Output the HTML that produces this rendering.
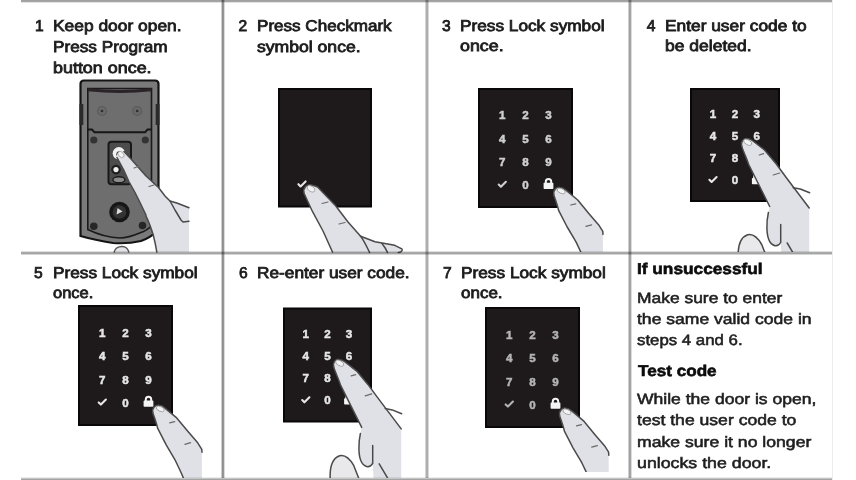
<!DOCTYPE html>
<html><head><meta charset="utf-8"><style>
html,body{margin:0;padding:0;background:#fff;}
body{width:856px;height:480px;position:relative;overflow:hidden;font-family:"Liberation Sans",sans-serif;}
.l{position:absolute;background:#8a8a8a;mix-blend-mode:multiply;}
span{position:absolute;white-space:nowrap;line-height:1;transform-origin:0 0;color:#232323;text-rendering:geometricPrecision;}
span.b{font-weight:400;color:#1c1c1c;-webkit-text-stroke:0.8px #1c1c1c;}
span.h{font-weight:700;color:#0c0c0c;-webkit-text-stroke:0.6px #0c0c0c;}
span.r{font-weight:400;color:#1e1e1e;-webkit-text-stroke:0.55px #1e1e1e;}
svg{position:absolute;left:0;top:0;}
</style></head><body>
<svg width="856" height="480" viewBox="0 0 856 480">
<defs><clipPath id="c3"><rect x="427" y="0" width="202" height="252"/></clipPath><clipPath id="c4"><rect x="631" y="0" width="201" height="252"/></clipPath><clipPath id="c5"><rect x="21" y="254" width="200" height="224"/></clipPath><clipPath id="c6"><rect x="223" y="254" width="202" height="224"/></clipPath><clipPath id="c7"><rect x="427" y="254" width="202" height="218"/></clipPath></defs>

<g>
<path d="M80.5,84 Q80.5,80.5 84,80.5 L155,80.5 Q158.5,80.5 158.5,84 L158.5,230 Q150,238 141,241 Q128,244 113,243 Q95,240 80.5,236 Z" fill="#7a7a7a" stroke="#141414" stroke-width="2.2"/>
<path d="M87.8,88.5 L151.5,88.5 L151.5,226 Q146,231 141,232.5 Q128,238 120,238 Q104,237.5 87.8,229.5 Z" fill="#6f6e6f" stroke="#1a1a1a" stroke-width="1.6"/>
<path d="M87.8,89.8 Q120,93 151.5,89.8" stroke="#2a2428" stroke-width="3" fill="none"/>
<path d="M87.8,129.5 L92,129.5 L94.5,132.3 L145,132.3 L147.5,129.5 L151.5,129.5" stroke="#161616" stroke-width="2" fill="none"/>
<rect x="79.5" y="104" width="3.8" height="21" fill="#2a2a2a"/>
<rect x="155.7" y="104" width="3.8" height="21" fill="#2a2a2a"/>
<circle cx="102" cy="111" r="4.4" fill="#6a696a" stroke="#5c5c5c" stroke-width="1.4"/>
<circle cx="137.2" cy="111" r="4.4" fill="#6a696a" stroke="#5c5c5c" stroke-width="1.4"/>
<circle cx="102" cy="111" r="1.3" fill="#2e2e2e"/>
<circle cx="137.2" cy="111" r="1.3" fill="#2e2e2e"/>
<circle cx="93.8" cy="140" r="3.6" fill="#333"/>
<circle cx="145.3" cy="140" r="3.6" fill="#333"/>
<rect x="108.5" y="141.8" width="22.5" height="42.5" rx="3" fill="#4c4c4c" stroke="#181818" stroke-width="2"/>
<circle cx="118.9" cy="153.3" r="6.2" fill="#f2f2f2"/>
<circle cx="119.4" cy="154.2" r="3" fill="#262626"/>
<circle cx="116" cy="169.6" r="4.8" fill="#1e1e1e"/>
<circle cx="116" cy="169.6" r="2.6" fill="#eeeeee"/>
<ellipse cx="118.9" cy="179.7" rx="6" ry="3" fill="#8c8c8c" stroke="#1c1c1c" stroke-width="1.4"/>
<circle cx="119.5" cy="212" r="10.3" fill="#161616"/>
<circle cx="119.5" cy="212" r="6.8" fill="#333"/>
<path d="M116.5,214.5 L122.5,211.5 L117.5,208 Z" fill="#dcdcdc"/>
<circle cx="93.8" cy="226.2" r="3.8" fill="#262626"/>
<circle cx="142.5" cy="225.5" r="3.8" fill="#262626"/>
<path d="M114,252.5 C115,248 119,246.5 122,246.5 C125,246.5 128,248.5 129,252.5" fill="#e4e4e8" stroke="#555" stroke-width="1.4"/>
</g>
<path d="M117,157.5 C116,152.5 120.5,150 124,151.5 L131,159 L146,176 L158.5,187.5 L165,196 L170,201 L177.5,203.2 L189,207.8 L189,252 L157,252 L153.75,235 L146,215 L140,202.5 L135,192.5 L128.75,181.25 L123.75,170 Z" fill="#e0e1e6" stroke="none"/>
<path d="M117,157.5 L123.75,170 L128.75,181.25 L135,192.5 L140,202.5 L146,215" fill="none" stroke="#4a4a4a" stroke-width="1.5" stroke-linecap="round" stroke-linejoin="round"/>
<path d="M124,151.5 L131,159 L146,176 L158.5,187.5 L165,196 L170,201 L177.5,203.2 L189,207.8" fill="none" stroke="#4a4a4a" stroke-width="1.5" stroke-linecap="round" stroke-linejoin="round"/>
<path d="M170,201 L175,210 L181,220 L183,222 L189,221.3" fill="none" stroke="#4a4a4a" stroke-width="1.5" stroke-linecap="round" stroke-linejoin="round"/>
<path d="M146,216 C149,222 151.5,229 153.5,236 C155,242 156,247 156.8,252" fill="none" stroke="#4a4a4a" stroke-width="1.5" stroke-linecap="round" stroke-linejoin="round"/>
<ellipse cx="121" cy="154.5" rx="3.6" ry="2.4" transform="rotate(45 121 154.5)" fill="#f4f4f4" stroke="#9a9a9a" stroke-width="0.8"/><path d="M134,168 L139.5,166" stroke="#6a6a6a" stroke-width="1.2" stroke-linecap="round"/><path d="M149,186.5 L154,185" stroke="#6a6a6a" stroke-width="1.2" stroke-linecap="round"/>
<rect x="278" y="88" width="94" height="119.5" fill="#090708"/>
<rect x="280" y="90" width="90" height="115.5" fill="#1e1a1b"/>
<path d="M298.4,184.2 L300.6,186.4 L305.6,181.4" stroke="#e6e6e6" stroke-width="2.1" fill="none" stroke-linecap="round" stroke-linejoin="round"/>
<rect x="478" y="88" width="95" height="120" fill="#090708"/>
<rect x="480" y="90" width="91" height="116" fill="#1e1a1b"/>
<text x="502.3" y="119.4" fill="#cfcfcf" stroke="#cfcfcf" stroke-width="0.5" font-size="11.6" font-weight="700" text-anchor="middle" font-family="Liberation Sans">1</text>
<text x="525.5" y="119.4" fill="#cfcfcf" stroke="#cfcfcf" stroke-width="0.5" font-size="11.6" font-weight="700" text-anchor="middle" font-family="Liberation Sans">2</text>
<text x="548.5" y="119.4" fill="#cfcfcf" stroke="#cfcfcf" stroke-width="0.5" font-size="11.6" font-weight="700" text-anchor="middle" font-family="Liberation Sans">3</text>
<text x="502.3" y="142.7" fill="#cfcfcf" stroke="#cfcfcf" stroke-width="0.5" font-size="11.6" font-weight="700" text-anchor="middle" font-family="Liberation Sans">4</text>
<text x="525.5" y="142.7" fill="#cfcfcf" stroke="#cfcfcf" stroke-width="0.5" font-size="11.6" font-weight="700" text-anchor="middle" font-family="Liberation Sans">5</text>
<text x="548.5" y="142.7" fill="#cfcfcf" stroke="#cfcfcf" stroke-width="0.5" font-size="11.6" font-weight="700" text-anchor="middle" font-family="Liberation Sans">6</text>
<text x="502.3" y="166.0" fill="#cfcfcf" stroke="#cfcfcf" stroke-width="0.5" font-size="11.6" font-weight="700" text-anchor="middle" font-family="Liberation Sans">7</text>
<text x="525.5" y="166.0" fill="#cfcfcf" stroke="#cfcfcf" stroke-width="0.5" font-size="11.6" font-weight="700" text-anchor="middle" font-family="Liberation Sans">8</text>
<text x="548.5" y="166.0" fill="#cfcfcf" stroke="#cfcfcf" stroke-width="0.5" font-size="11.6" font-weight="700" text-anchor="middle" font-family="Liberation Sans">9</text>
<text x="525.5" y="189.0" fill="#cfcfcf" stroke="#cfcfcf" stroke-width="0.5" font-size="11.6" font-weight="700" text-anchor="middle" font-family="Liberation Sans">0</text>
<rect x="543.6" y="182.8" width="9.8" height="6.2" rx="0.8" fill="#f4f4f4"/>
<path d="M545.8,183.4 L545.8,181.6 A2.7,2.7 0 0 1 551.2,181.6 L551.2,183.4" fill="none" stroke="#f4f4f4" stroke-width="2"/>
<path d="M498.7,184.6 L500.9,186.8 L505.9,181.8" stroke="#cfcfcf" stroke-width="2.1" fill="none" stroke-linecap="round" stroke-linejoin="round"/>
<rect x="690" y="88" width="90" height="114" fill="#090708"/>
<rect x="692" y="90" width="86" height="110" fill="#1e1a1b"/>
<text x="713.0" y="118.0" fill="#e6e6e6" stroke="#e6e6e6" stroke-width="0.5" font-size="11.6" font-weight="700" text-anchor="middle" font-family="Liberation Sans">1</text>
<text x="735.0" y="118.0" fill="#e6e6e6" stroke="#e6e6e6" stroke-width="0.5" font-size="11.6" font-weight="700" text-anchor="middle" font-family="Liberation Sans">2</text>
<text x="756.8" y="118.0" fill="#e6e6e6" stroke="#e6e6e6" stroke-width="0.5" font-size="11.6" font-weight="700" text-anchor="middle" font-family="Liberation Sans">3</text>
<text x="713.0" y="140.2" fill="#e6e6e6" stroke="#e6e6e6" stroke-width="0.5" font-size="11.6" font-weight="700" text-anchor="middle" font-family="Liberation Sans">4</text>
<text x="735.0" y="140.2" fill="#e6e6e6" stroke="#e6e6e6" stroke-width="0.5" font-size="11.6" font-weight="700" text-anchor="middle" font-family="Liberation Sans">5</text>
<text x="756.8" y="140.2" fill="#e6e6e6" stroke="#e6e6e6" stroke-width="0.5" font-size="11.6" font-weight="700" text-anchor="middle" font-family="Liberation Sans">6</text>
<text x="713.0" y="162.3" fill="#e6e6e6" stroke="#e6e6e6" stroke-width="0.5" font-size="11.6" font-weight="700" text-anchor="middle" font-family="Liberation Sans">7</text>
<text x="735.0" y="162.3" fill="#e6e6e6" stroke="#e6e6e6" stroke-width="0.5" font-size="11.6" font-weight="700" text-anchor="middle" font-family="Liberation Sans">8</text>
<text x="756.8" y="162.3" fill="#e6e6e6" stroke="#e6e6e6" stroke-width="0.5" font-size="11.6" font-weight="700" text-anchor="middle" font-family="Liberation Sans">9</text>
<text x="735.0" y="184.1" fill="#e6e6e6" stroke="#e6e6e6" stroke-width="0.5" font-size="11.6" font-weight="700" text-anchor="middle" font-family="Liberation Sans">0</text>
<rect x="751.9" y="178.0" width="9.8" height="6.2" rx="0.8" fill="#f4f4f4"/>
<path d="M754.1,178.6 L754.1,176.8 A2.7,2.7 0 0 1 759.5,176.8 L759.5,178.6" fill="none" stroke="#f4f4f4" stroke-width="2"/>
<path d="M709.4,179.8 L711.6,182.0 L716.6,177.0" stroke="#e6e6e6" stroke-width="2.1" fill="none" stroke-linecap="round" stroke-linejoin="round"/>
<rect x="78" y="305" width="95" height="121" fill="#090708"/>
<rect x="80" y="307" width="91" height="117" fill="#1e1a1b"/>
<text x="102.3" y="336.6" fill="#e6e6e6" stroke="#e6e6e6" stroke-width="0.5" font-size="11.6" font-weight="700" text-anchor="middle" font-family="Liberation Sans">1</text>
<text x="125.5" y="336.6" fill="#e6e6e6" stroke="#e6e6e6" stroke-width="0.5" font-size="11.6" font-weight="700" text-anchor="middle" font-family="Liberation Sans">2</text>
<text x="148.5" y="336.6" fill="#e6e6e6" stroke="#e6e6e6" stroke-width="0.5" font-size="11.6" font-weight="700" text-anchor="middle" font-family="Liberation Sans">3</text>
<text x="102.3" y="360.1" fill="#e6e6e6" stroke="#e6e6e6" stroke-width="0.5" font-size="11.6" font-weight="700" text-anchor="middle" font-family="Liberation Sans">4</text>
<text x="125.5" y="360.1" fill="#e6e6e6" stroke="#e6e6e6" stroke-width="0.5" font-size="11.6" font-weight="700" text-anchor="middle" font-family="Liberation Sans">5</text>
<text x="148.5" y="360.1" fill="#e6e6e6" stroke="#e6e6e6" stroke-width="0.5" font-size="11.6" font-weight="700" text-anchor="middle" font-family="Liberation Sans">6</text>
<text x="102.3" y="383.6" fill="#e6e6e6" stroke="#e6e6e6" stroke-width="0.5" font-size="11.6" font-weight="700" text-anchor="middle" font-family="Liberation Sans">7</text>
<text x="125.5" y="383.6" fill="#e6e6e6" stroke="#e6e6e6" stroke-width="0.5" font-size="11.6" font-weight="700" text-anchor="middle" font-family="Liberation Sans">8</text>
<text x="148.5" y="383.6" fill="#e6e6e6" stroke="#e6e6e6" stroke-width="0.5" font-size="11.6" font-weight="700" text-anchor="middle" font-family="Liberation Sans">9</text>
<text x="125.5" y="406.8" fill="#e6e6e6" stroke="#e6e6e6" stroke-width="0.5" font-size="11.6" font-weight="700" text-anchor="middle" font-family="Liberation Sans">0</text>
<rect x="143.6" y="400.6" width="9.8" height="6.2" rx="0.8" fill="#f4f4f4"/>
<path d="M145.8,401.2 L145.8,399.4 A2.7,2.7 0 0 1 151.2,399.4 L151.2,401.2" fill="none" stroke="#f4f4f4" stroke-width="2"/>
<path d="M98.7,402.4 L100.9,404.6 L105.9,399.6" stroke="#e6e6e6" stroke-width="2.1" fill="none" stroke-linecap="round" stroke-linejoin="round"/>
<rect x="283" y="307.5" width="89" height="115" fill="#090708"/>
<rect x="285" y="309.5" width="85" height="111" fill="#1e1a1b"/>
<text x="305.8" y="337.7" fill="#e6e6e6" stroke="#e6e6e6" stroke-width="0.5" font-size="11.6" font-weight="700" text-anchor="middle" font-family="Liberation Sans">1</text>
<text x="327.5" y="337.7" fill="#e6e6e6" stroke="#e6e6e6" stroke-width="0.5" font-size="11.6" font-weight="700" text-anchor="middle" font-family="Liberation Sans">2</text>
<text x="349.0" y="337.7" fill="#e6e6e6" stroke="#e6e6e6" stroke-width="0.5" font-size="11.6" font-weight="700" text-anchor="middle" font-family="Liberation Sans">3</text>
<text x="305.8" y="360.1" fill="#e6e6e6" stroke="#e6e6e6" stroke-width="0.5" font-size="11.6" font-weight="700" text-anchor="middle" font-family="Liberation Sans">4</text>
<text x="327.5" y="360.1" fill="#e6e6e6" stroke="#e6e6e6" stroke-width="0.5" font-size="11.6" font-weight="700" text-anchor="middle" font-family="Liberation Sans">5</text>
<text x="349.0" y="360.1" fill="#e6e6e6" stroke="#e6e6e6" stroke-width="0.5" font-size="11.6" font-weight="700" text-anchor="middle" font-family="Liberation Sans">6</text>
<text x="305.8" y="382.4" fill="#e6e6e6" stroke="#e6e6e6" stroke-width="0.5" font-size="11.6" font-weight="700" text-anchor="middle" font-family="Liberation Sans">7</text>
<text x="327.5" y="382.4" fill="#e6e6e6" stroke="#e6e6e6" stroke-width="0.5" font-size="11.6" font-weight="700" text-anchor="middle" font-family="Liberation Sans">8</text>
<text x="349.0" y="382.4" fill="#e6e6e6" stroke="#e6e6e6" stroke-width="0.5" font-size="11.6" font-weight="700" text-anchor="middle" font-family="Liberation Sans">9</text>
<text x="327.5" y="404.4" fill="#e6e6e6" stroke="#e6e6e6" stroke-width="0.5" font-size="11.6" font-weight="700" text-anchor="middle" font-family="Liberation Sans">0</text>
<rect x="344.1" y="398.3" width="9.8" height="6.2" rx="0.8" fill="#f4f4f4"/>
<path d="M346.3,398.9 L346.3,397.1 A2.7,2.7 0 0 1 351.7,397.1 L351.7,398.9" fill="none" stroke="#f4f4f4" stroke-width="2"/>
<path d="M302.2,400.1 L304.4,402.3 L309.4,397.3" stroke="#e6e6e6" stroke-width="2.1" fill="none" stroke-linecap="round" stroke-linejoin="round"/>
<rect x="485" y="307" width="95" height="121" fill="#090708"/>
<rect x="487" y="309" width="91" height="117" fill="#1e1a1b"/>
<text x="509.3" y="338.6" fill="#b4b4b4" stroke="#b4b4b4" stroke-width="0.5" font-size="11.6" font-weight="700" text-anchor="middle" font-family="Liberation Sans">1</text>
<text x="532.5" y="338.6" fill="#b4b4b4" stroke="#b4b4b4" stroke-width="0.5" font-size="11.6" font-weight="700" text-anchor="middle" font-family="Liberation Sans">2</text>
<text x="555.5" y="338.6" fill="#b4b4b4" stroke="#b4b4b4" stroke-width="0.5" font-size="11.6" font-weight="700" text-anchor="middle" font-family="Liberation Sans">3</text>
<text x="509.3" y="362.1" fill="#b4b4b4" stroke="#b4b4b4" stroke-width="0.5" font-size="11.6" font-weight="700" text-anchor="middle" font-family="Liberation Sans">4</text>
<text x="532.5" y="362.1" fill="#b4b4b4" stroke="#b4b4b4" stroke-width="0.5" font-size="11.6" font-weight="700" text-anchor="middle" font-family="Liberation Sans">5</text>
<text x="555.5" y="362.1" fill="#b4b4b4" stroke="#b4b4b4" stroke-width="0.5" font-size="11.6" font-weight="700" text-anchor="middle" font-family="Liberation Sans">6</text>
<text x="509.3" y="385.6" fill="#b4b4b4" stroke="#b4b4b4" stroke-width="0.5" font-size="11.6" font-weight="700" text-anchor="middle" font-family="Liberation Sans">7</text>
<text x="532.5" y="385.6" fill="#b4b4b4" stroke="#b4b4b4" stroke-width="0.5" font-size="11.6" font-weight="700" text-anchor="middle" font-family="Liberation Sans">8</text>
<text x="555.5" y="385.6" fill="#b4b4b4" stroke="#b4b4b4" stroke-width="0.5" font-size="11.6" font-weight="700" text-anchor="middle" font-family="Liberation Sans">9</text>
<text x="532.5" y="408.8" fill="#b4b4b4" stroke="#b4b4b4" stroke-width="0.5" font-size="11.6" font-weight="700" text-anchor="middle" font-family="Liberation Sans">0</text>
<rect x="550.6" y="402.6" width="9.8" height="6.2" rx="0.8" fill="#f4f4f4"/>
<path d="M552.8,403.2 L552.8,401.4 A2.7,2.7 0 0 1 558.2,401.4 L558.2,403.2" fill="none" stroke="#f4f4f4" stroke-width="2"/>
<path d="M505.7,404.4 L507.9,406.6 L512.9,401.6" stroke="#b4b4b4" stroke-width="2.1" fill="none" stroke-linecap="round" stroke-linejoin="round"/>
<path d="M304,193 C303,187 307,184 311.4,185 C314,185.5 316,186 317.6,187 L335.6,205.8 L348,222 L360.6,236.3 L375,241.7 L394.7,245.3 L401.9,248.9 L401,253 L332,253 L323,231 L312.3,211.2 Z" fill="#e0e1e6" stroke="none"/>
<path d="M304,193 C303,187 307,184 311.4,185 C314,185.5 316,186 317.6,187 L335.6,205.8 L348,222 L360.6,236.3" fill="none" stroke="#4a4a4a" stroke-width="1.5" stroke-linecap="round" stroke-linejoin="round"/>
<path d="M304,193.3 L312.3,211.2 L323,231 L332.5,252" fill="none" stroke="#4a4a4a" stroke-width="1.5" stroke-linecap="round" stroke-linejoin="round"/>
<path d="M360.6,236.3 L375,241.7 L394.7,245.3 L401.9,248.9 C403,250.5 401,252.5 398.3,252.4" fill="none" stroke="#4a4a4a" stroke-width="1.5" stroke-linecap="round" stroke-linejoin="round"/>
<path d="M360.6,236.3 C363,239 366,245 369.6,252.5" fill="none" stroke="#4a4a4a" stroke-width="1.5" stroke-linecap="round" stroke-linejoin="round"/>
<path d="M382,243.5 C384,246 386,249 387.5,252.5" fill="none" stroke="#4a4a4a" stroke-width="1.5" stroke-linecap="round" stroke-linejoin="round"/>
<ellipse cx="311" cy="188.8" rx="4.3" ry="2.6" transform="rotate(30 311 188.8)" fill="#f4f4f4" stroke="#9a9a9a" stroke-width="0.8"/><path d="M322,203.5 L328,202" stroke="#6a6a6a" stroke-width="1.2" stroke-linecap="round"/><path d="M339,224 L345,222.5" stroke="#6a6a6a" stroke-width="1.2" stroke-linecap="round"/>
<g clip-path="url(#c3)"><path d="M 553.8,194.9 C 553.0,189.4 556.7,186.8 560.2,187.4 C 562.7,187.6 564.7,188.9 566.2,190.4 L 577.7,200.0 L 589.2,213.9 L 598.7,224.9 L 602.8,231.4 L 603.0,254.0 L 585.2,254.0 L 582.5,255.6 L 576.0,241.9 L 567.2,227.0 L 558.6,210.3 L 553.8,194.9 Z" fill="#e0e1e6" stroke="none"/>
<path d="M 553.8,194.9 C 553.0,189.4 556.7,186.8 560.2,187.4 C 562.7,187.6 564.7,188.9 566.2,190.4 L 577.7,200.0 L 589.2,213.9 L 598.7,224.9 L 602.8,231.4 L 603.0,234.4" fill="none" stroke="#4a4a4a" stroke-width="1.5" stroke-linecap="round" stroke-linejoin="round"/>
<path d="M 553.8,194.9 C 555.7,200.4 557.6,205.4 558.6,210.3 L 567.2,227.0 L 576.0,241.9 L 582.5,255.6 L 585.2,254.0" fill="none" stroke="#4a4a4a" stroke-width="1.5" stroke-linecap="round" stroke-linejoin="round"/>
<ellipse cx="561.2" cy="191.0" rx="4.3" ry="2.3" transform="rotate(25 561.2 191.0)" fill="#f4f4f4" stroke="#9a9a9a" stroke-width="0.8"/><path d="M570.7,205.0 L575.7,203.8" stroke="#6a6a6a" stroke-width="1.2" stroke-linecap="round"/><path d="M585.9000000000001,226.4 L591.6,224.8" stroke="#6a6a6a" stroke-width="1.2" stroke-linecap="round"/></g>
<g clip-path="url(#c5)"><path d="M 152.8,412.8 C 152.0,407.3 155.7,404.7 159.2,405.3 C 161.7,405.5 163.7,406.8 165.2,408.3 L 176.7,417.9 L 188.2,431.8 L 197.7,442.8 L 201.8,449.3 L 202.0,480.0 L 184.2,480.0 L 181.5,473.5 L 175.0,459.8 L 166.2,444.9 L 157.6,428.2 L 152.8,412.8 Z" fill="#e0e1e6" stroke="none"/>
<path d="M 152.8,412.8 C 152.0,407.3 155.7,404.7 159.2,405.3 C 161.7,405.5 163.7,406.8 165.2,408.3 L 176.7,417.9 L 188.2,431.8 L 197.7,442.8 L 201.8,449.3 L 202.0,452.3" fill="none" stroke="#4a4a4a" stroke-width="1.5" stroke-linecap="round" stroke-linejoin="round"/>
<path d="M 152.8,412.8 C 154.7,418.3 156.6,423.3 157.6,428.2 L 166.2,444.9 L 175.0,459.8 L 181.5,473.5 L 184.2,480.0" fill="none" stroke="#4a4a4a" stroke-width="1.5" stroke-linecap="round" stroke-linejoin="round"/>
<ellipse cx="160.2" cy="408.90000000000003" rx="4.3" ry="2.3" transform="rotate(25 160.2 408.90000000000003)" fill="#f4f4f4" stroke="#9a9a9a" stroke-width="0.8"/><path d="M169.7,422.90000000000003 L174.7,421.7" stroke="#6a6a6a" stroke-width="1.2" stroke-linecap="round"/><path d="M184.89999999999998,444.3 L190.6,442.7" stroke="#6a6a6a" stroke-width="1.2" stroke-linecap="round"/></g>
<g clip-path="url(#c7)"><path d="M 559.6,415.7 C 558.8,410.2 562.5,407.6 566.0,408.2 C 568.5,408.4 570.5,409.7 572.0,411.2 L 583.5,420.8 L 595.0,434.7 L 604.5,445.7 L 608.6,452.2 L 608.8,474.0 L 591.0,474.0 L 588.3,476.4 L 581.8,462.7 L 573.0,447.8 L 564.4,431.1 L 559.6,415.7 Z" fill="#e0e1e6" stroke="none"/>
<path d="M 559.6,415.7 C 558.8,410.2 562.5,407.6 566.0,408.2 C 568.5,408.4 570.5,409.7 572.0,411.2 L 583.5,420.8 L 595.0,434.7 L 604.5,445.7 L 608.6,452.2 L 608.8,455.2" fill="none" stroke="#4a4a4a" stroke-width="1.5" stroke-linecap="round" stroke-linejoin="round"/>
<path d="M 559.6,415.7 C 561.5,421.2 563.4,426.2 564.4,431.1 L 573.0,447.8 L 581.8,462.7 L 588.3,476.4 L 591.0,474.0" fill="none" stroke="#4a4a4a" stroke-width="1.5" stroke-linecap="round" stroke-linejoin="round"/>
<ellipse cx="567.0" cy="411.8" rx="4.3" ry="2.3" transform="rotate(25 567.0 411.8)" fill="#f4f4f4" stroke="#9a9a9a" stroke-width="0.8"/><path d="M576.5,425.8 L581.5,424.59999999999997" stroke="#6a6a6a" stroke-width="1.2" stroke-linecap="round"/><path d="M591.7,447.2 L597.4,445.59999999999997" stroke="#6a6a6a" stroke-width="1.2" stroke-linecap="round"/></g>
<g clip-path="url(#c4)">
<path d="M 741.7,146.1 C 740.7,140.5 744.2,137.9 747.2,138.5 C 749.7,138.8 751.7,139.8 753.0,141.0 L 764.7,150.2 L 775.9,163.5 L 784.7,175.5 L 792.2,185.5 L 803.0,199.7 L 809.2,208.0 L 809.2,268.5 L 782.2,268.5 L 780.7,242.5 C 778.2,247.0 773.2,247.0 769.7,241.5 C 766.2,235.5 766.2,222.5 768.4,212.5 L 769.7,206.5 L 758.7,184.5 L 748.7,164.5 Z" fill="#e0e1e6"/>
<path d="M 738.2,258.5 C 737.7,248.5 739.7,237.5 747.7,234.8 C 753.2,233.5 758.2,238.5 761.7,244.5 L 767.2,258.5 Z" fill="#e9e9ec"/>
<path d="M 741.7,146.1 C 740.7,140.5 744.2,137.9 747.2,138.5 C 749.7,138.8 751.7,139.8 753.0,141.0 L 764.7,150.2 L 775.9,163.5 L 784.7,175.5 L 792.2,185.5 L 803.0,199.7 L 809.2,208.0" fill="none" stroke="#4a4a4a" stroke-width="1.5" stroke-linecap="round" stroke-linejoin="round"/>
<path d="M 741.7,146.1 C 743.7,152.5 746.7,158.5 748.7,164.5 L 758.7,184.5 L 769.7,206.5" fill="none" stroke="#4a4a4a" stroke-width="1.5" stroke-linecap="round" stroke-linejoin="round"/>
<path d="M 793.2,187.7 L 800.2,189.0 L 809.7,192.8" fill="none" stroke="#4a4a4a" stroke-width="1.5" stroke-linecap="round" stroke-linejoin="round"/>
<path d="M 768.4,212.5 C 766.2,222.5 766.2,235.5 769.7,241.5 C 773.2,247.0 778.2,247.0 780.7,242.5 L 780.7,224.5" fill="none" stroke="#4a4a4a" stroke-width="1.5" stroke-linecap="round" stroke-linejoin="round"/>
<path d="M 787.2,243.0 L 795.5,257.0" fill="none" stroke="#4a4a4a" stroke-width="1.5" stroke-linecap="round" stroke-linejoin="round"/>
<path d="M 738.2,258.5 C 737.7,248.5 739.7,237.5 747.7,234.8 C 753.2,233.5 758.2,238.5 761.7,244.5 L 767.2,258.5" fill="none" stroke="#4a4a4a" stroke-width="1.5" stroke-linecap="round" stroke-linejoin="round"/>
<ellipse cx="747.7" cy="142.3" rx="4.4" ry="2.4" transform="rotate(28 747.7 142.3)" fill="#f4f4f4" stroke="#9a9a9a" stroke-width="0.8"/><path d="M759.2,155.0 L763.7,153.7" stroke="#6a6a6a" stroke-width="1.2" stroke-linecap="round"/><path d="M773.2,175.0 L779.7,173.0" stroke="#6a6a6a" stroke-width="1.2" stroke-linecap="round"/>
</g>
<g clip-path="url(#c6)">
<path d="M 333.7,367.0 C 332.7,361.4 336.2,358.8 339.2,359.4 C 341.7,359.7 343.7,360.7 345.0,361.9 L 356.7,371.1 L 367.9,384.4 L 376.7,396.4 L 384.2,406.4 L 395.0,420.6 L 401.2,428.9 L 401.2,489.4 L 374.2,489.4 L 372.7,463.4 C 370.2,467.9 365.2,467.9 361.7,462.4 C 358.2,456.4 358.2,443.4 360.4,433.4 L 361.7,427.4 L 350.7,405.4 L 340.7,385.4 Z" fill="#e0e1e6"/>
<path d="M 330.2,479.4 C 329.7,469.4 331.7,458.4 339.7,455.7 C 345.2,454.4 350.2,459.4 353.7,465.4 L 359.2,479.4 Z" fill="#e9e9ec"/>
<path d="M 333.7,367.0 C 332.7,361.4 336.2,358.8 339.2,359.4 C 341.7,359.7 343.7,360.7 345.0,361.9 L 356.7,371.1 L 367.9,384.4 L 376.7,396.4 L 384.2,406.4 L 395.0,420.6 L 401.2,428.9" fill="none" stroke="#4a4a4a" stroke-width="1.5" stroke-linecap="round" stroke-linejoin="round"/>
<path d="M 333.7,367.0 C 335.7,373.4 338.7,379.4 340.7,385.4 L 350.7,405.4 L 361.7,427.4" fill="none" stroke="#4a4a4a" stroke-width="1.5" stroke-linecap="round" stroke-linejoin="round"/>
<path d="M 385.2,408.6 L 392.2,409.9 L 401.7,413.7" fill="none" stroke="#4a4a4a" stroke-width="1.5" stroke-linecap="round" stroke-linejoin="round"/>
<path d="M 360.4,433.4 C 358.2,443.4 358.2,456.4 361.7,462.4 C 365.2,467.9 370.2,467.9 372.7,463.4 L 372.7,445.4" fill="none" stroke="#4a4a4a" stroke-width="1.5" stroke-linecap="round" stroke-linejoin="round"/>
<path d="M 379.2,463.9 L 387.5,477.9" fill="none" stroke="#4a4a4a" stroke-width="1.5" stroke-linecap="round" stroke-linejoin="round"/>
<path d="M 330.2,479.4 C 329.7,469.4 331.7,458.4 339.7,455.7 C 345.2,454.4 350.2,459.4 353.7,465.4 L 359.2,479.4" fill="none" stroke="#4a4a4a" stroke-width="1.5" stroke-linecap="round" stroke-linejoin="round"/>
<ellipse cx="339.7" cy="363.2" rx="4.4" ry="2.4" transform="rotate(28 339.7 363.2)" fill="#f4f4f4" stroke="#9a9a9a" stroke-width="0.8"/><path d="M351.2,375.9 L355.7,374.59999999999997" stroke="#6a6a6a" stroke-width="1.2" stroke-linecap="round"/><path d="M365.2,395.9 L371.7,393.9" stroke="#6a6a6a" stroke-width="1.2" stroke-linecap="round"/>
</g>
</svg>
<div class="l" style="left:21px;top:0;width:811px;height:3px;background:linear-gradient(to bottom,#a0a0a0 0px,#a0a0a0 1px,#a6a6a6 1px,#a6a6a6 2px,#e2e2e2 2px,#e2e2e2 3px)"></div>
<div class="l" style="left:21px;top:251px;width:811px;height:4px;background:linear-gradient(to bottom,#dedede 0px,#dedede 1px,#ababab 1px,#ababab 2px,#a3a3a3 2px,#a3a3a3 3px,#d6d6d6 3px,#d6d6d6 4px)"></div>
<div class="l" style="left:21px;top:477px;width:811px;height:3px;background:linear-gradient(to bottom,#ececec 0px,#ececec 1px,#c4c4c4 1px,#c4c4c4 2px,#a4a4a4 2px,#a4a4a4 3px)"></div>
<div class="l" style="left:221px;top:0;width:4px;height:478px;background:linear-gradient(to right,#cecece 0px,#cecece 1px,#8e8e8e 1px,#8e8e8e 2px,#979797 2px,#979797 3px,#dadada 3px,#dadada 4px)"></div>
<div class="l" style="left:425px;top:0;width:4px;height:478px;background:linear-gradient(to right,#d4d4d4 0px,#d4d4d4 1px,#b0b0b0 1px,#b0b0b0 2px,#acacac 2px,#acacac 3px,#dadada 3px,#dadada 4px)"></div>
<div class="l" style="left:628px;top:0;width:4px;height:478px;background:linear-gradient(to right,#d0d0d0 0px,#d0d0d0 1px,#a0a0a0 1px,#a0a0a0 2px,#a4a4a4 2px,#a4a4a4 3px,#dcdcdc 3px,#dcdcdc 4px)"></div>
<div class="l" style="left:832px;top:0;width:1px;height:480px;background:#ececec"></div>
<span class="b" style="left:34.9px;top:18.99px;font-size:15.6px;">1</span>
<span class="b" style="left:53.3px;top:18.99px;font-size:15.6px;transform:scaleX(1.1151);">Keep door open.</span>
<span class="b" style="left:53.3px;top:39.89px;font-size:15.6px;transform:scaleX(1.1019);">Press Program</span>
<span class="b" style="left:53.3px;top:60.79px;font-size:15.6px;transform:scaleX(1.1486);">button once.</span>
<span class="b" style="left:238.6px;top:18.99px;font-size:15.6px;">2</span>
<span class="b" style="left:256.9px;top:18.99px;font-size:15.6px;transform:scaleX(1.0939);">Press Checkmark</span>
<span class="b" style="left:256.9px;top:39.89px;font-size:15.6px;transform:scaleX(1.1276);">symbol once.</span>
<span class="b" style="left:442.1px;top:18.99px;font-size:15.6px;">3</span>
<span class="b" style="left:460.4px;top:18.99px;font-size:15.6px;transform:scaleX(1.1050);">Press Lock symbol</span>
<span class="b" style="left:460.4px;top:39.49px;font-size:15.6px;transform:scaleX(1.1427);">once.</span>
<span class="b" style="left:646.7px;top:18.99px;font-size:15.6px;">4</span>
<span class="b" style="left:664.5px;top:18.99px;font-size:15.6px;transform:scaleX(1.1111);">Enter user code to</span>
<span class="b" style="left:664.5px;top:38.79px;font-size:15.6px;transform:scaleX(1.1222);">be deleted.</span>
<span class="b" style="left:34.1px;top:265.89px;font-size:15.6px;">5</span>
<span class="b" style="left:53.0px;top:265.89px;font-size:15.6px;transform:scaleX(1.1050);">Press Lock symbol</span>
<span class="b" style="left:53.0px;top:285.89px;font-size:15.6px;transform:scaleX(1.0588);">once.</span>
<span class="b" style="left:239.1px;top:265.89px;font-size:15.6px;">6</span>
<span class="b" style="left:256.8px;top:265.89px;font-size:15.6px;transform:scaleX(1.1072);">Re-enter user code.</span>
<span class="b" style="left:443.0px;top:265.89px;font-size:15.6px;">7</span>
<span class="b" style="left:460.7px;top:265.89px;font-size:15.6px;transform:scaleX(1.1065);">Press Lock symbol</span>
<span class="b" style="left:460.7px;top:285.89px;font-size:15.6px;transform:scaleX(1.0903);">once.</span>
<span class="h" style="left:636.9px;top:261.78px;font-size:15.5px;transform:scaleX(1.1130);">If unsuccessful</span>
<span class="r" style="left:637.1px;top:290.90px;font-size:15px;transform:scaleX(1.1618);">Make sure to enter</span>
<span class="r" style="left:637.1px;top:312.00px;font-size:15px;transform:scaleX(1.1697);">the same valid code in</span>
<span class="r" style="left:637.1px;top:333.00px;font-size:15px;transform:scaleX(1.1206);">steps 4 and 6.</span>
<span class="h" style="left:637.7px;top:364.38px;font-size:15.5px;transform:scaleX(1.1039);">Test code</span>
<span class="r" style="left:637.1px;top:391.60px;font-size:15px;transform:scaleX(1.1687);">While the door is open,</span>
<span class="r" style="left:637.1px;top:413.40px;font-size:15px;transform:scaleX(1.1720);">test the user code to</span>
<span class="r" style="left:637.1px;top:434.90px;font-size:15px;transform:scaleX(1.1744);">make sure it no longer</span>
<span class="r" style="left:637.1px;top:456.00px;font-size:15px;transform:scaleX(1.1841);">unlocks the door.</span>
</body></html>
